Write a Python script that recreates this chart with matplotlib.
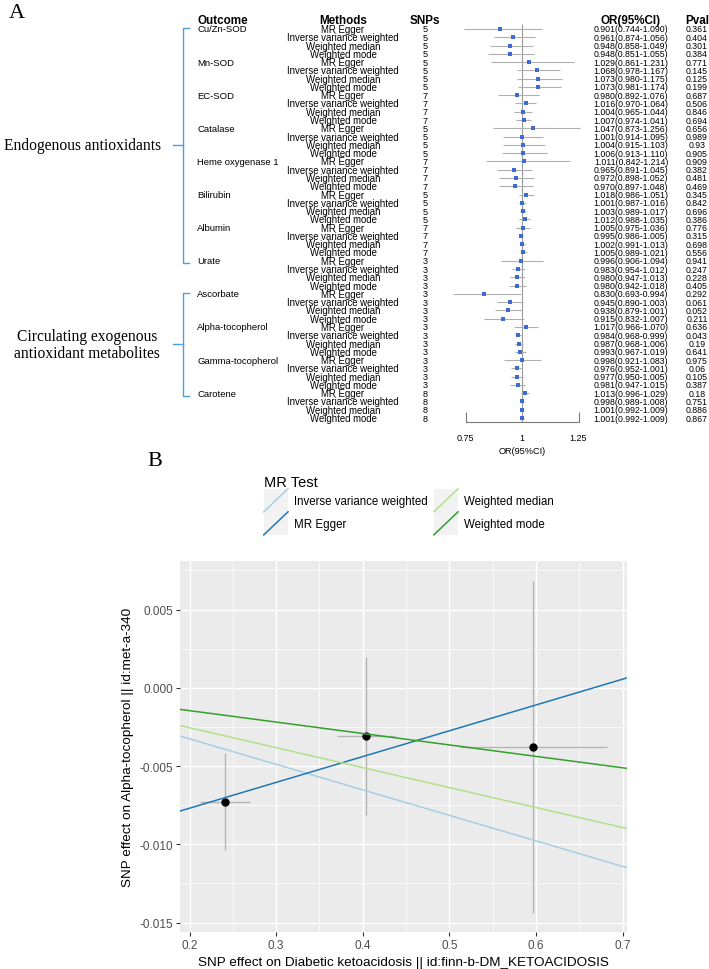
import numpy as np
import matplotlib
matplotlib.use('Agg')
import matplotlib.pyplot as plt
from matplotlib.legend_handler import HandlerBase
from matplotlib.patches import Rectangle
from matplotlib.lines import Line2D

plt.rcParams['font.family'] = ['Liberation Sans', 'DejaVu Sans']
plt.rcParams['axes.unicode_minus'] = False

# ---------------- panel A data ----------------
outcomes = ['Cu/Zn-SOD', 'Mn-SOD', 'EC-SOD', 'Catalase', 'Heme oxygenase 1', 'Bilirubin',
            'Albumin', 'Urate', 'Ascorbate', 'Alpha-tocopherol', 'Gamma-tocopherol', 'Carotene']
methods = ['MR Egger', 'Inverse variance weighted', 'Weighted median', 'Weighted mode']
snps = [5, 5, 7, 5, 7, 5, 7, 3, 3, 3, 3, 8]
groups = ['Endogenous antioxidants', 'Circulating exogenous\nantioxidant metabolites']
group_sizes = [8, 4]

or_val = [0.901, 0.961, 0.948, 0.948, 1.029, 1.068, 1.073, 1.073, 0.980, 1.016, 1.004, 1.007,
          1.047, 1.001, 1.004, 1.006, 1.011, 0.965, 0.972, 0.970, 1.018, 1.001, 1.003, 1.012,
          1.005, 0.995, 1.002, 1.005, 0.996, 0.983, 0.980, 0.980, 0.830, 0.945, 0.938, 0.915,
          1.017, 0.984, 0.987, 0.993, 0.998, 0.976, 0.977, 0.981, 1.013, 0.998, 1.001, 1.001]
or_lo = [0.744, 0.874, 0.858, 0.851, 0.861, 0.978, 0.980, 0.981, 0.892, 0.970, 0.965, 0.974,
         0.873, 0.914, 0.915, 0.913, 0.842, 0.891, 0.898, 0.897, 0.986, 0.987, 0.989, 0.988,
         0.975, 0.986, 0.991, 0.989, 0.906, 0.954, 0.947, 0.942, 0.693, 0.890, 0.879, 0.832,
         0.966, 0.968, 0.968, 0.967, 0.921, 0.952, 0.950, 0.947, 0.996, 0.989, 0.992, 0.992]
or_hi = [1.090, 1.056, 1.049, 1.055, 1.231, 1.167, 1.175, 1.174, 1.076, 1.064, 1.044, 1.041,
         1.256, 1.095, 1.103, 1.110, 1.214, 1.045, 1.052, 1.048, 1.051, 1.016, 1.017, 1.035,
         1.036, 1.005, 1.013, 1.021, 1.094, 1.012, 1.013, 1.018, 0.994, 1.003, 1.001, 1.007,
         1.070, 0.999, 1.006, 1.019, 1.083, 1.001, 1.005, 1.015, 1.029, 1.008, 1.009, 1.009]
pvals = [0.361, 0.404, 0.301, 0.384, 0.771, 0.145, 0.125, 0.199, 0.687, 0.506, 0.846, 0.694,
         0.656, 0.989, 0.93, 0.905, 0.909, 0.382, 0.481, 0.469, 0.345, 0.842, 0.696, 0.386,
         0.776, 0.315, 0.698, 0.556, 0.941, 0.247, 0.228, 0.405, 0.292, 0.061, 0.052, 0.211,
         0.636, 0.043, 0.19, 0.641, 0.975, 0.06, 0.105, 0.387, 0.18, 0.751, 0.886, 0.867]

# ---------------- panel B data ----------------
snp_x = [0.241, 0.4035, 0.597]
snp_y = [-0.00727, -0.00307, -0.00377]
snp_xse = [0.029, 0.0335, 0.0846]
snp_yse = [0.0031, 0.00505, 0.0106]
mr_methods = ['Inverse variance weighted', 'MR Egger', 'Weighted median', 'Weighted mode']
mr_slope = [-0.0163, 0.01649, -0.01275, -0.0073]
mr_icpt = [0.0, -0.01099, 0.0, 0.0]
mr_colors = ['#A6CEE3', '#1F78B4', '#B2DF8A', '#33A02C']

W, H = 709, 970
fig = plt.figure(figsize=(W / 100, H / 100), dpi=100)

# ---------------- panel A ----------------
row0, row_h = 30.0, 8.277          # pixel y of first row, row spacing
a_bot = 470.0
ylims = ((a_bot - row0) / row_h, (0 - row0) / row_h)
n_rows = len(or_val)
rows = np.arange(n_rows)

ax_t = fig.add_axes([0, 1 - a_bot / H, 1, a_bot / H])
ax_t.set_xlim(0, W)
ax_t.set_ylim(*ylims)
ax_t.axis('off')

x_out, x_meth, x_snp, x_or, x_p = 197, 343, 425, 631, 697
hdr = dict(fontsize=8.4, fontweight='bold', va='center')
hy = -1.1
ax_t.text(x_out, hy, 'Outcome', ha='left', **hdr)
ax_t.text(x_meth, hy, 'Methods', ha='center', **hdr)
ax_t.text(x_snp, hy, 'SNPs', ha='center', **hdr)
ax_t.text(x_or, hy, 'OR(95%CI)', ha='center', **hdr)
ax_t.text(x_p, hy, 'Pval', ha='center', **hdr)

for r in rows:
    k = r // len(methods)
    if r % len(methods) == 0:
        ax_t.text(x_out, r, outcomes[k], ha='left', va='center', fontsize=6.8)
    ax_t.text(x_meth, r, methods[r % len(methods)], ha='center', va='center', fontsize=6.9)
    ax_t.text(x_snp, r, str(snps[k]), ha='center', va='center', fontsize=6.6)
    ax_t.text(x_or, r, f'{or_val[r]:.3f}({or_lo[r]:.3f}-{or_hi[r]:.3f})',
              ha='center', va='center', fontsize=6.3)
    ax_t.text(x_p, r, str(pvals[r]), ha='center', va='center', fontsize=6.3)

# group brackets
bcol = '#4a9fdc'
start = 0
for g, n in zip(groups, group_sizes):
    top = start * len(methods) - 0.15
    bot = (start + n - 1) * len(methods) + 0.3
    mid = (top + bot) / 2
    ax_t.plot([189, 183, 183, 189], [top, top, bot, bot], color=bcol, lw=1)
    ax_t.plot([173, 183], [mid, mid], color=bcol, lw=1)
    ax_t.text(82 if '\n' not in g else 87, mid, g, ha='center', va='center', fontsize=11.2,
              family='Liberation Serif', linespacing=1.1)
    start += n

fig.text(16.5 / W, 1 - 13 / H, 'A', ha='center', va='center', fontsize=16, family='Liberation Serif')

# forest
ax_f = fig.add_axes([440 / W, 1 - a_bot / H, 180 / W, a_bot / H])
ax_f.set_xlim(1 - (522 - 440) / 226, 1 + (620 - 522) / 226)
ax_f.set_ylim(*ylims)
ax_f.patch.set_visible(False)
axis_row = (423 - row0) / row_h
ax_f.vlines(1, -0.6, axis_row, color='#9a9a9a', lw=0.8)
ax_f.hlines(rows, or_lo, or_hi, color='#b0b0b0', lw=0.8)
ax_f.plot(or_val, rows, 's', ms=2.2, mew=0, color='#3d6bd4')
for s in ['top', 'left', 'right']:
    ax_f.spines[s].set_visible(False)
ax_f.spines['bottom'].set_position(('data', axis_row))
ax_f.spines['bottom'].set_bounds(0.75, 1.25)
ax_f.spines['bottom'].set_color('#7a7a7a')
ax_f.spines['bottom'].set_linewidth(0.8)
ax_f.set_xticks([0.75, 1, 1.25])
ax_f.set_xticklabels(['0.75', '1', '1.25'])
ax_f.set_yticks([])
ax_f.tick_params(axis='x', direction='in', length=7, width=0.8, color='#7a7a7a',
                 labelsize=6.5, pad=8)
ax_f.text(1, (452 - row0) / row_h, 'OR(95%CI)', ha='center', va='center', fontsize=6.6)

# ---------------- panel B ----------------
ax_b = fig.add_axes([180 / W, 1 - 933 / H, 447 / W, 371 / H])
ax_b.set_facecolor('#EBEBEB')
ax_b.set_xlim(0.189, 0.705)
ax_b.set_ylim(-0.0156, 0.0081)
ax_b.set_xticks(np.arange(0.2, 0.71, 0.1))
ax_b.set_xticks(np.arange(0.25, 0.7, 0.1), minor=True)
ax_b.set_yticks([-0.015, -0.010, -0.005, 0.0, 0.005])
ax_b.set_yticks([-0.0125, -0.0075, -0.0025, 0.0025, 0.0075], minor=True)
ax_b.set_xticklabels(['0.2', '0.3', '0.4', '0.5', '0.6', '0.7'])
ax_b.set_yticklabels(['-0.015', '-0.010', '-0.005', '0.000', '0.005'])
ax_b.grid(which='major', color='white', lw=1.0)
ax_b.grid(which='minor', color='white', lw=0.5)
ax_b.set_axisbelow(True)
for s in ax_b.spines.values():
    s.set_visible(False)
ax_b.tick_params(which='major', length=3, width=0.8, color='#333333', labelsize=8.5,
                 labelcolor='#4D4D4D', pad=2)
ax_b.tick_params(which='minor', length=0)

ax_b.errorbar(snp_x, snp_y, xerr=snp_xse, yerr=snp_yse, fmt='none', ecolor='#b5b5b5',
              elinewidth=1, capsize=0, zorder=2)
ax_b.plot(snp_x, snp_y, 'o', color='black', ms=5, zorder=3)
handles = []
for m, b1, b0, c in zip(mr_methods, mr_slope, mr_icpt, mr_colors):
    h = ax_b.axline((0, b0), slope=b1, color=c, lw=1.1, zorder=4, label=m)
    handles.append(h)

ax_b.set_xlabel('SNP effect on Diabetic ketoacidosis || id:finn-b-DM_KETOACIDOSIS', fontsize=9.7,
                labelpad=4)
ax_b.set_ylabel('SNP effect on Alpha-tocopherol || id:met-a-340', fontsize=9.7, labelpad=4)


class DiagHandler(HandlerBase):
    def create_artists(self, legend, orig_handle, xdescent, ydescent, width, height,
                       fontsize, trans):
        bg = Rectangle((-xdescent, -ydescent), width, height, facecolor='#F2F2F2',
                       edgecolor='none', transform=trans)
        ln = Line2D([-xdescent, width - xdescent], [-ydescent, height - ydescent],
                    color=orig_handle.get_color(), lw=orig_handle.get_linewidth(),
                    transform=trans)
        return [bg, ln]


fig.legend(handles, mr_methods, ncol=2, title='MR Test', loc='upper left',
           bbox_to_anchor=(258 / W, 1 - 470 / H), frameon=False, fontsize=8.3,
           title_fontsize=10.5, handler_map={Line2D: DiagHandler()}, handlelength=2.1,
           handleheight=2.7, handletextpad=0.5, columnspacing=0.55, labelspacing=0,
           borderpad=0, alignment='left')

fig.text(155 / W, 1 - 462 / H, 'B', ha='center', va='center', fontsize=16, family='Liberation Serif')

fig.savefig('out.png', dpi=100)
